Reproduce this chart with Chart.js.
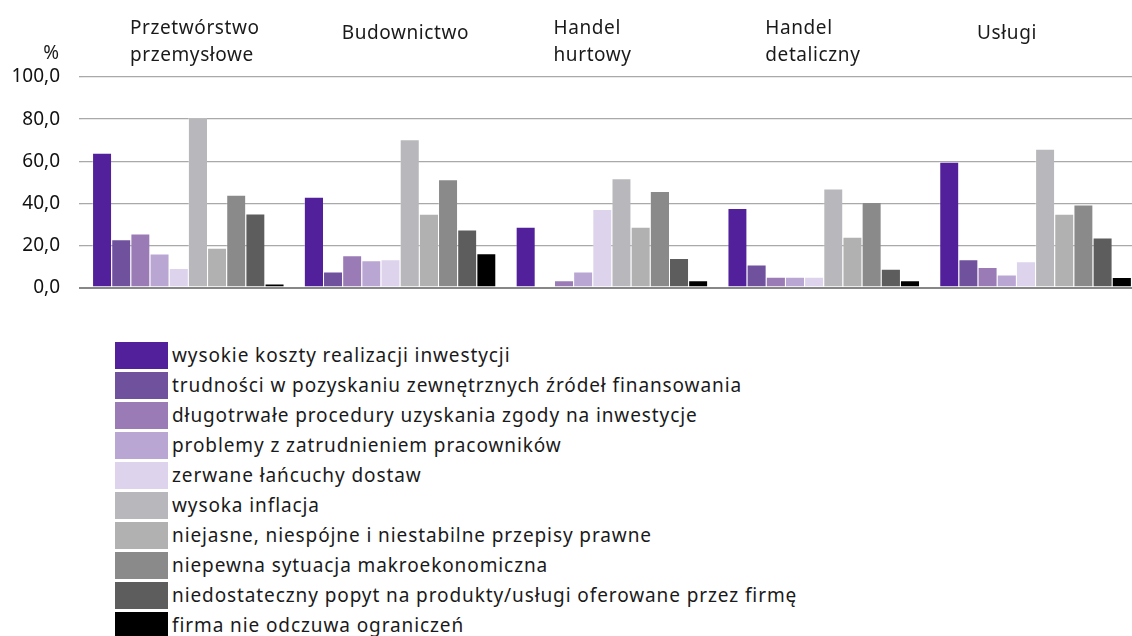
<!DOCTYPE html>
<html lang="pl">
<head>
<meta charset="utf-8">
<script src="https://cdn.jsdelivr.net/npm/chart.js@4.4.0/dist/chart.umd.min.js"></script>
<style>
    html, body { margin: 0; padding: 0; background: #fff; overflow: hidden; width: 1132px; height: 636px; }
    #wrap { position: absolute; left: 0; top: 0; width: 1142px; height: 318px; }
    #legend { position: absolute; left: 115px; top: 340px; font-family: "Noto Sans", sans-serif; font-size: 19px; letter-spacing: 0.9px; color: #1a1a1a; }
    .item { display: flex; align-items: center; height: 30px; white-space: nowrap; }
    .box { width: 53px; height: 27px; margin-right: 4px; flex: none; }
</style>
</head>
<body>
<div id="wrap"><canvas id="chart" width="1142" height="318"></canvas></div>
<div id="legend"></div>
<script>
// Data
const categories = [
    ['Przetwórstwo', 'przemysłowe'],
    ['Budownictwo'],
    ['Handel', 'hurtowy'],
    ['Handel', 'detaliczny'],
    ['Usługi']
];
const seriesNames = [
    'wysokie koszty realizacji inwestycji',
    'trudności w pozyskaniu zewnętrznych źródeł finansowania',
    'długotrwałe procedury uzyskania zgody na inwestycje',
    'problemy z zatrudnieniem pracowników',
    'zerwane łańcuchy dostaw',
    'wysoka inflacja',
    'niejasne, niespójne i niestabilne przepisy prawne',
    'niepewna sytuacja makroekonomiczna',
    'niedostateczny popyt na produkty/usługi oferowane przez firmę',
    'firma nie odczuwa ograniczeń'
];
const kosztyInwestycji = [64.0, 43.1, 28.9, 37.8, 59.8];
const trudnosciFinansowania = [23.0, 7.6, 0.0, 11.0, 13.5];
const procedury = [25.7, 15.4, 3.5, 5.2, 9.8];
const zatrudnienie = [16.2, 13.0, 7.6, 5.2, 6.2];
const lancuchyDostaw = [9.3, 13.5, 37.3, 5.2, 12.5];
const inflacja = [80.6, 70.5, 51.9, 47.0, 65.9];
const przepisy = [18.9, 35.1, 28.9, 24.1, 35.1];
const makroekonomia = [44.1, 51.4, 45.9, 40.6, 39.5];
const popyt = [35.2, 27.6, 14.1, 9.0, 23.8];
const brakOgraniczen = [2.0, 16.3, 3.5, 3.5, 5.0];
const yTickValues = [0, 20, 40, 60, 80, 100];
const yTickLabels = ['0,0', '20,0', '40,0', '60,0', '80,0', '100,0'];

const seriesValues = [kosztyInwestycji, trudnosciFinansowania, procedury, zatrudnienie, lancuchyDostaw,
    inflacja, przepisy, makroekonomia, popyt, brakOgraniczen];
const colors = ['#52209a', '#6f519d', '#9a7bb6', '#baa6d3', '#ddd3ec',
    '#b8b7bb', '#b1b1b1', '#898a89', '#5d5d5d', '#000000'];

const FONT = '"Noto Sans", sans-serif';

// category labels on top and the % unit
const topLabels = {
    id: 'topLabels',
    afterDraw(chart) {
        const ctx = chart.ctx;
        const xs = chart.scales.x;
        ctx.save();
        ctx.font = '19px ' + FONT;
        ctx.letterSpacing = '0.6px';
        ctx.fillStyle = '#1a1a1a';
        ctx.textAlign = 'left';
        ctx.textBaseline = 'alphabetic';
        categories.forEach((lines, i) => {
            const px = xs.getPixelForValue(i) - 58;
            const base = lines.length > 1 ? 34 : 39;
            lines.forEach((t, j) => ctx.fillText(t, px, base + j * 27));
        });
        ctx.letterSpacing = '0px';
        ctx.textAlign = 'right';
        ctx.fillText('%', 59, 59);
        ctx.restore();
    }
};

const chart = new Chart(document.getElementById('chart').getContext('2d'), {
    type: 'bar',
    data: {
        labels: categories.map(c => c.join(' ')),
        datasets: seriesNames.map((name, i) => ({
            label: name,
            data: seriesValues[i],
            backgroundColor: colors[i],
            borderColor: 'rgba(255,255,255,0.3)',
            borderWidth: { top: 1, left: 1, right: 0, bottom: 0 },
            borderSkipped: false,
            categoryPercentage: 0.905,
            barPercentage: 1.0
        }))
    },
    options: {
        responsive: false,
        animation: false,
        layout: { padding: { top: 77, right: 1, bottom: 13, left: 0 } },
        plugins: {
            legend: { display: false },
            tooltip: { enabled: false }
        },
        scales: {
            x: {
                display: false
            },
            y: {
                min: 0,
                max: 100,
                afterBuildTicks: scale => {
                    scale.ticks = yTickValues.map(v => ({ value: v }));
                },
                afterFit: scale => { scale.width = 82; },
                ticks: {
                    padding: 19,
                    color: '#111',
                    font: { family: FONT, size: 19 },
                    callback: function (value) {
                        return yTickLabels[yTickValues.indexOf(value)];
                    }
                },
                grid: {
                    drawTicks: true,
                    tickLength: 3,
                    color: ctx => ctx.tick && ctx.tick.value === 0 ? '#878787' : '#a9a9a9',
                    lineWidth: ctx => ctx.tick && ctx.tick.value === 0 ? 2 : 1.3
                },
                border: { display: false }
            }
        }
    },
    plugins: [topLabels]
});

// Legend
const legendEl = document.getElementById('legend');
chart.data.datasets.forEach(ds => {
    const row = document.createElement('div');
    row.className = 'item';
    const box = document.createElement('span');
    box.className = 'box';
    box.style.background = ds.backgroundColor;
    const txt = document.createElement('span');
    txt.textContent = ds.label;
    row.appendChild(box);
    row.appendChild(txt);
    legendEl.appendChild(row);
});
</script>
</body>
</html>
